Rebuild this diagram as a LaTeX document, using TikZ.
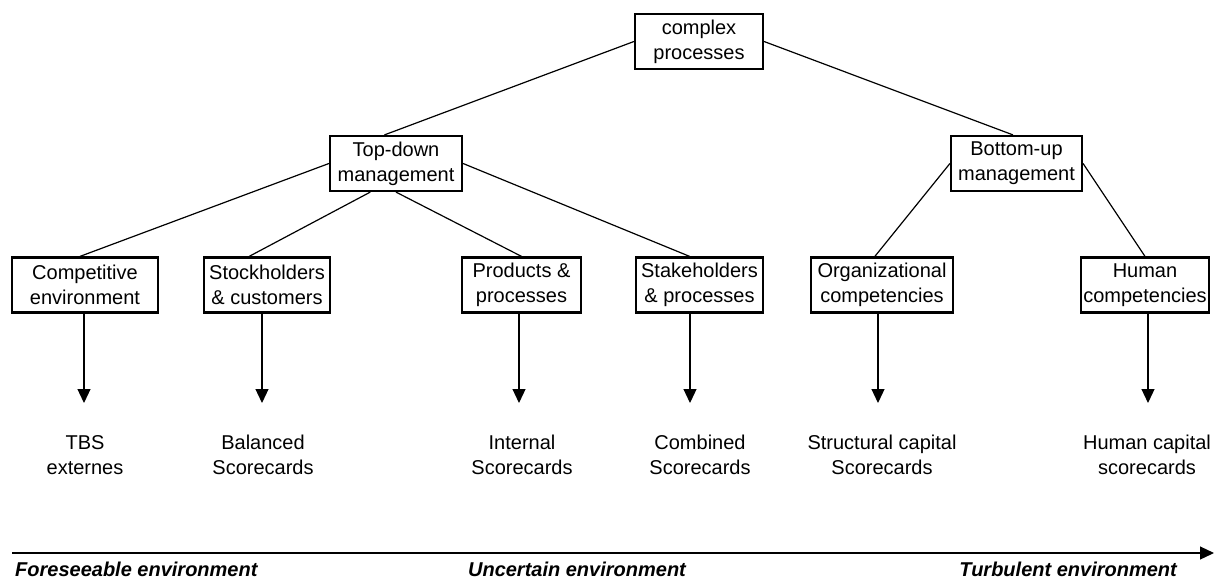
\documentclass[tikz,border=0pt]{standalone}
\usepackage{fontspec}
\setmainfont{Liberation Sans}
\usetikzlibrary{arrows.meta}
\begin{document}
\begin{tikzpicture}[x=1pt,y=-1pt,
  box/.style={draw,line width=2.2pt,align=center,inner sep=0pt,minimum height=55pt,font=\fontsize{20}{25}\selectfont},
  lbl/.style={align=center,inner sep=0pt,font=\fontsize{20}{25}\selectfont},
  link/.style={line width=1.2pt},
  arr/.style={line width=1.2pt,-{Triangle[length=14pt,width=13pt]}},
  envtext/.style={inner sep=0pt,font=\fontsize{20}{24}\selectfont\bfseries\itshape}]
\useasboundingbox (0,0) rectangle (1215,579);

% boxes
\node[box,minimum width=128pt] (cp) at (699,41.5) {complex\\processes};
\node[box,minimum width=132pt] (td) at (396,163.5) {Top-down\\management};
\node[box,minimum width=131pt] (bu) at (1016.5,163.5) {Bottom-up\\management};
\node[box,minimum width=146pt] (ce) at (85,285) {Competitive\\environment};
\node[box,minimum width=126pt] (sc) at (267,285) {Stockholders\\\& customers};
\node[box,minimum width=119pt] (pp) at (521.5,285) {Products \&\\processes};
\node[box,minimum width=127pt] (sp) at (699.5,285) {Stakeholders\\\& processes};
\node[box,minimum width=142pt] (oc) at (882,285) {Organizational\\competencies};
\node[box,minimum width=128pt] (hc) at (1145,285) {Human\\competencies};

% tree links
\draw[link] (cp.west) -- (td.112);
\draw[link] (cp.east) -- (bu.97);
\draw[link] (td.west) -- (ce.100);
\draw[link] (td.228) -- (sc.122);
\draw[link] (td.south) -- (pp.north);
\draw[link] (td.east) -- (sp.109);
\draw[link] (bu.west) -- (oc.104);
\draw[link] (bu.east) -- (hc.north);

% result labels
\node[lbl] (l1) at (85,455) {TBS\\externes};
\node[lbl] (l2) at (263,455) {Balanced\\Scorecards};
\node[lbl] (l3) at (522,455) {Internal\\Scorecards};
\node[lbl] (l4) at (700,455) {Combined\\Scorecards};
\node[lbl] (l5) at (882,455) {Structural capital\\Scorecards};
\node[lbl] (l6) at (1147,455) {Human capital\\scorecards};

% arrow tips
\coordinate (t1) at (84,403);
\coordinate (t2) at (262,403);
\coordinate (t3) at (519,403);
\coordinate (t4) at (690,403);
\coordinate (t5) at (878,403);
\coordinate (t6) at (1148,403);
\draw[arr] (ce.south -| t1) -- (t1);
\draw[arr] (sc.south -| t2) -- (t2);
\draw[arr] (pp.south -| t3) -- (t3);
\draw[arr] (sp.south -| t4) -- (t4);
\draw[arr] (oc.south -| t5) -- (t5);
\draw[arr] (hc.south -| t6) -- (t6);

% environment axis
\coordinate (a0) at (12,553);
\coordinate (a1) at (1214,553);
\draw[line width=1.2pt,-{Triangle[length=14pt,width=13pt]}] (a0) -- (a1);
\node[envtext,anchor=base west] (e1) at (15,576.5) {Foreseeable environment};
\node[envtext,anchor=base] (e2) at (577,576.5) {Uncertain environment};
\node[envtext,anchor=base east] (e3) at (1177,576.5) {Turbulent environment};
\end{tikzpicture}
\end{document}
